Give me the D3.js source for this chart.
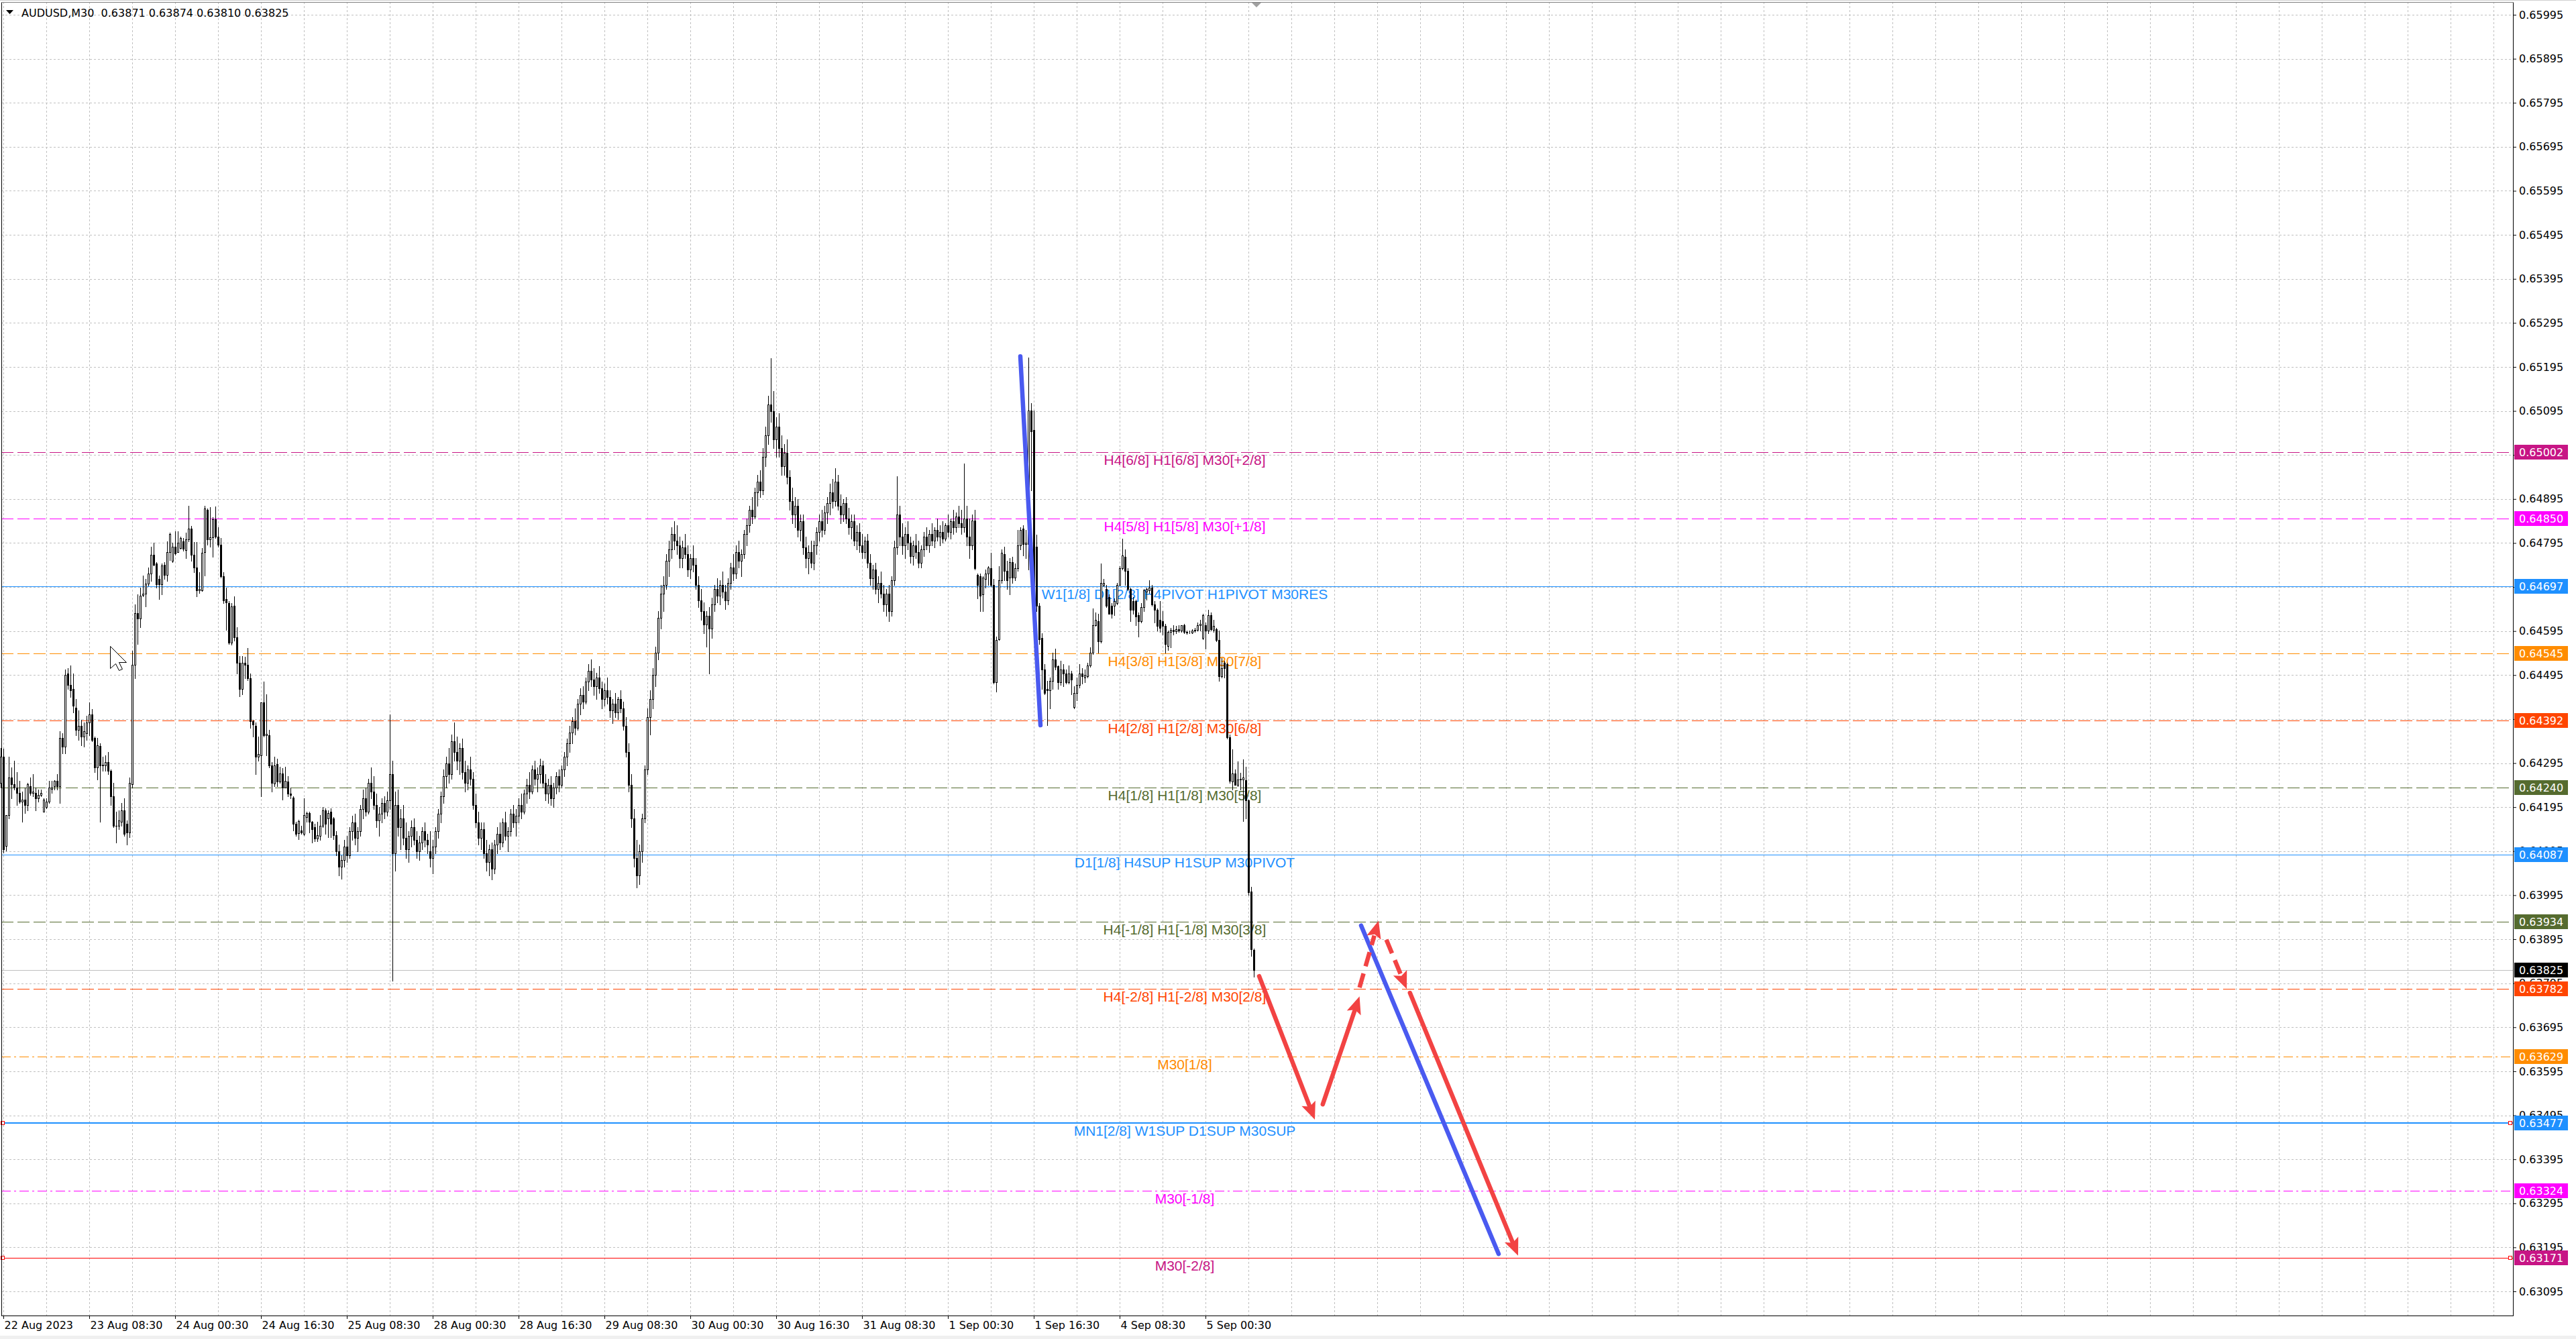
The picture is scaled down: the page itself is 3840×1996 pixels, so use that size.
<!DOCTYPE html>
<html>
<head>
<meta charset="utf-8">
<script src="https://cdn.jsdelivr.net/npm/d3@7/dist/d3.min.js"></script>
<style>
  html, body { margin:0; padding:0; background:#ffffff; overflow:hidden; }
  svg { display:block; }
</style>
</head>
<body>
<svg id="chart" width="3840" height="1996" xmlns="http://www.w3.org/2000/svg"></svg>
<script>
// ================= DATA =================
const chartTitle = "AUDUSD,M30  0.63871 0.63874 0.63810 0.63825";
const priceUnit = 0.00001; // bar values are in pipettes (1e-5)

const timeLabels = ["22 Aug 2023","23 Aug 08:30","24 Aug 00:30","24 Aug 16:30","25 Aug 08:30",
  "28 Aug 00:30","28 Aug 16:30","29 Aug 08:30","30 Aug 00:30","30 Aug 16:30","31 Aug 08:30",
  "1 Sep 00:30","1 Sep 16:30","4 Sep 08:30","5 Sep 00:30"];
const timeLabelBars = [1,33,65,97,129,161,193,225,257,289,321,353,385,417,449];

const priceTicks = [0.65995,0.65895,0.65795,0.65695,0.65595,0.65495,0.65395,0.65295,0.65195,0.65095,
  0.64995,0.64895,0.64795,0.64695,0.64595,0.64495,0.64395,0.64295,0.64195,0.64095,
  0.63995,0.63895,0.63795,0.63695,0.63595,0.63495,0.63395,0.63295,0.63195,0.63095];

// candles [open, high, low, close], M30 bars
const barsAStart = 0;   // 22 Aug 16:00 ...
const barsA = [
[64250,64330,64240,64309],[64309,64328,64091,64099],[64107,64177,64096,64177],[64177,64309,64170,64262],
[64262,64285,64215,64247],[64247,64301,64235,64239],[64239,64274,64200,64227],[64227,64254,64204,64208],
[64208,64231,64161,64212],[64212,64239,64181,64200],[64200,64250,64188,64247],[64243,64262,64223,64227],
[64227,64270,64219,64231],[64227,64239,64188,64215],[64215,64235,64208,64223],[64223,64235,64219,64227],
[64184,64215,64184,64212],[64196,64215,64192,64208],[64208,64254,64204,64239],[64237,64254,64227,64240],
[64243,64256,64235,64254],[64254,64270,64235,64243],[64243,64367,64204,64352],[64352,64363,64317,64332],
[64332,64507,64317,64495],[64499,64511,64464,64472],[64472,64517,64445,64460],[64464,64499,64410,64425],
[64421,64441,64359,64371],[64371,64414,64348,64379],[64379,64394,64336,64356],[64356,64387,64332,64367],
[64363,64402,64348,64387],[64387,64433,64359,64406],[64406,64418,64344,64348],[64352,64356,64274,64285],
[64285,64352,64258,64336],[64334,64340,64161,64289],[64289,64309,64278,64292],[64289,64313,64278,64297],
[64297,64320,64270,64278],[64278,64281,64200,64219],[64219,64250,64149,64153],[64153,64184,64114,64152],
[64153,64188,64145,64165],[64161,64204,64153,64188],[64188,64215,64130,64134],[64157,64165,64110,64138],
[64138,64262,64126,64250],[64247,64550,64239,64519],[64519,64655,64488,64635],[64635,64678,64565,64624],
[64624,64694,64604,64676],[64677,64721,64674,64680],[64680,64713,64651,64703],[64703,64740,64698,64725],
[64725,64787,64709,64768],[64768,64795,64744,64746],[64748,64752,64694,64701],[64713,64721,64667,64701],
[64701,64748,64678,64744],[64746,64752,64713,64723],[64722,64799,64709,64775],[64775,64818,64756,64816],
[64754,64795,64752,64786],[64786,64822,64768,64771],[64775,64822,64774,64796],[64783,64810,64782,64806],
[64799,64806,64778,64782],[64779,64818,64761,64804],[64804,64879,64799,64828],[64828,64834,64754,64769],
[64768,64797,64729,64739],[64740,64797,64674,64688],[64688,64729,64682,64690],[64688,64783,64686,64773],
[64775,64880,64721,64873],[64870,64873,64791,64803],[64803,64876,64787,64808],[64808,64853,64764,64849],
[64849,64878,64806,64810],[64810,64830,64787,64791],[64791,64806,64717,64719],[64719,64729,64659,64665],
[64668,64694,64598,64660],[64659,64663,64565,64569],[64569,64659,64564,64651],[64652,64674,64573,64581],
[64581,64604,64499,64523],[64523,64538,64446,64464],[64464,64538,64452,64523],[64523,64536,64488,64519],
[64519,64556,64484,64488],[64488,64499,64375,64390],[64390,64394,64356,64383],[64379,64387,64270,64309],
[64309,64356,64301,64315],[64313,64433,64219,64433],[64433,64480,64356,64359],[64359,64452,64313,64361],
[64359,64371,64285,64289],[64289,64297,64231,64250],[64248,64310,64243,64289],[64293,64305,64243,64253],
[64253,64287,64250,64271],[64271,64284,64212,64240],[64240,64287,64239,64254],[64253,64266,64219,64225],
[64225,64239,64215,64223],[64217,64219,64142,64157],[64157,64161,64130,64134],[64136,64167,64122,64163],
[64142,64153,64134,64138],[64134,64215,64131,64177],[64173,64184,64161,64181],[64181,64184,64138,64161],
[64161,64163,64114,64145],[64149,64157,64118,64123],[64123,64161,64118,64131],[64130,64177,64120,64153],
[64153,64196,64149,64188],[64188,64192,64134,64157],[64169,64188,64126,64181],[64184,64192,64126,64157],
[64169,64173,64122,64131]
];

const barsBStart = 125; // 25 Aug 06:30 ...
const barsB = [
[64131,64140,64085,64095],[64095,64110,64040,64060],[64060,64085,64032,64075],[64075,64120,64060,64105],
[64105,64130,64070,64085],[64085,64150,64080,64140],[64140,64175,64120,64160],[64160,64180,64110,64125],
[64125,64150,64095,64140],[64140,64200,64130,64190],[64190,64235,64170,64215],[64215,64240,64175,64185],
[64185,64260,64180,64250],[64250,64285,64215,64230],[64230,64265,64190,64200],[64200,64225,64150,64165],
[64165,64195,64130,64180],[64180,64215,64160,64205],[64205,64220,64170,64185],[64185,64230,64175,64210],
[64210,64405,64190,64270],[64270,64300,63801,64090],[64090,64230,64050,64200],[64200,64235,64130,64150],
[64150,64190,64100,64170],[64170,64200,64110,64125],[64125,64160,64080,64100],[64100,64140,64070,64130],
[64130,64165,64105,64150],[64150,64170,64110,64120],[64120,64140,64080,64095],[64095,64130,64075,64115],
[64115,64150,64100,64140],[64140,64160,64105,64120],[64120,64135,64090,64110],[64095,64140,64060,64080],
[64080,64120,64045,64105],[64105,64150,64090,64140],[64140,64190,64125,64180],[64180,64230,64160,64220],
[64220,64280,64205,64265],[64265,64310,64240,64295],[64295,64330,64250,64270],[64270,64360,64260,64345],
[64345,64387,64300,64320],[64320,64355,64280,64300],[64300,64340,64270,64330],[64330,64350,64260,64275],
[64275,64300,64230,64250],[64250,64290,64235,64280],[64280,64310,64245,64260],[64260,64275,64190,64200],
[64200,64225,64150,64160],[64160,64185,64110,64125],[64125,64160,64100,64145],[64145,64160,64080,64090],
[64090,64120,64050,64070],[64070,64110,64040,64100],[64100,64115,64030,64055],[64055,64120,64045,64110],
[64110,64150,64090,64135],[64135,64160,64100,64115],[64115,64170,64105,64160],[64160,64185,64120,64130],
[64130,64150,64095,64140],[64140,64190,64130,64180],[64180,64200,64150,64160],[64160,64190,64130,64175],
[64175,64215,64160,64200],[64200,64225,64170,64185],[64185,64235,64180,64225],[64225,64260,64205,64245],
[64245,64275,64215,64230],[64230,64290,64225,64280],[64280,64300,64245,64260],[64260,64285,64230,64270],
[64270,64305,64250,64290],[64290,64300,64240,64250],[64250,64270,64210,64225],[64225,64260,64205,64245],
[64245,64265,64200,64215],[64215,64250,64195,64240],[64240,64275,64225,64265],[64265,64280,64230,64245],
[64245,64290,64240,64280],[64280,64320,64265,64310],[64310,64350,64290,64340],[64340,64380,64320,64365],
[64365,64400,64340,64390],[64390,64420,64360,64375],[64375,64440,64370,64430],[64430,64465,64405,64450],
[64450,64470,64420,64435],[64435,64490,64430,64480],[64480,64520,64460,64505],[64505,64530,64470,64485],
[64485,64510,64450,64470],[64470,64500,64440,64490],[64490,64515,64455,64465],[64465,64480,64420,64440],
[64440,64475,64425,64460],[64460,64490,64430,64445],[64445,64460,64400,64415],[64415,64440,64385,64430],
[64430,64455,64400,64410],[64410,64445,64395,64440],[64440,64460,64410,64420],[64420,64435,64370,64380],
[64380,64400,64310,64320],[64320,64340,64230,64245],[64245,64270,64150,64170],[64170,64190,64060,64080],
[64080,64120,64013,64040],[64040,64110,64020,64095],[64095,64180,64070,64170],[64170,64290,64160,64280],
[64280,64420,64270,64400],[64400,64460,64360,64440],[64440,64510,64420,64495],[64495,64560,64470,64545],
[64545,64640,64530,64625],[64625,64700,64600,64680],[64680,64720,64640,64700],[64700,64770,64690,64755],
[64755,64800,64720,64780],[64780,64830,64760,64815],[64815,64845,64780,64800],[64800,64835,64770,64790],
[64790,64810,64740,64760],[64760,64800,64740,64785],[64785,64815,64760,64770],[64770,64790,64720,64735],
[64735,64770,64715,64760],[64760,64790,64730,64745],[64745,64760,64690,64700],[64700,64720,64650,64665],
[64665,64690,64620,64640],[64640,64660,64590,64610],[64610,64640,64560,64630],[64630,64650,64498,64600],
[64600,64670,64580,64655],[64655,64700,64640,64690],[64690,64715,64660,64675],[64675,64710,64655,64700],
[64700,64730,64670,64685],[64685,64700,64645,64665],[64665,64715,64655,64705],[64705,64750,64690,64740],
[64740,64770,64710,64725],[64725,64790,64715,64775],[64775,64800,64740,64755],[64755,64780,64720,64770],
[64770,64825,64760,64815],[64815,64850,64790,64835],[64835,64880,64820,64870],[64870,64900,64840,64855],
[64855,64920,64850,64910],[64910,64950,64880,64935],[64935,64960,64900,64915],[64915,65010,64905,64990],
[64990,65060,64970,65040],[65040,65130,65020,65110],[65110,65215,65070,65095],[65095,65140,65010,65030],
[65030,65080,64990,65060],[65060,65090,64990,65010],[65010,65040,64950,64970],[64970,65020,64950,65000],
[65000,65030,64930,64945],[64945,64960,64870,64890],[64890,64920,64840,64860],[64860,64900,64830,64880],
[64880,64895,64810,64825],[64825,64860,64800,64845],[64845,64860,64770,64785],[64785,64810,64740,64760],
[64760,64790,64725,64775],[64775,64800,64740,64750],[64750,64800,64735,64790],[64790,64830,64770,64820],
[64820,64860,64800,64845],[64845,64870,64810,64825],[64825,64880,64815,64865],[64865,64900,64840,64885],
[64885,64930,64860,64910],[64910,64940,64875,64890],[64890,64965,64880,64935],[64935,64950,64870,64880],
[64880,64905,64840,64860],[64860,64895,64845,64885],[64885,64900,64840,64850],[64850,64875,64815,64830],
[64830,64860,64805,64845],[64845,64860,64790,64800],[64800,64835,64780,64820],[64820,64840,64775,64790],
[64790,64815,64760,64775],[64775,64810,64760,64800],[64800,64815,64740,64750],[64750,64770,64700,64715],
[64715,64745,64690,64735],[64735,64750,64680,64690],[64690,64720,64660,64705],[64705,64730,64670,64680],
[64680,64700,64640,64655],[64655,64690,64630,64680],[64680,64700,64618,64640],[64640,64720,64630,64710],
[64710,64800,64700,64785],[64785,64946,64770,64860],[64860,64880,64790,64810],[64810,64840,64770,64790],
[64790,64830,64760,64815],[64815,64845,64780,64795],[64795,64810,64750,64765],[64765,64800,64745,64790],
[64790,64815,64760,64775],[64775,64800,64740,64750],[64750,64790,64740,64780],[64780,64820,64765,64810],
[64810,64830,64780,64790],[64790,64825,64775,64815],[64815,64840,64790,64800],[64800,64830,64785,64825],
[64825,64850,64800,64810],[64810,64835,64790,64820],[64820,64845,64795,64805],[64805,64840,64800,64835],
[64835,64860,64810,64820],[64820,64850,64805,64845],[64845,64870,64815,64830],[64830,64865,64820,64855],
[64855,64880,64830,64840],[64840,64870,64815,64830],[64830,64976,64820,64850],[64850,64880,64790,64810],
[64810,64850,64760,64790],[64790,64860,64780,64846]
];

const barsCStart = 363; // 1 Sep 15:30 ... 5 Sep 09:30
const barsC = [
[64846,64871,64735,64738],[64723,64726,64669,64700],[64720,64726,64640,64675],[64678,64720,64640,64716],
[64713,64735,64694,64726],[64726,64742,64700,64740],[64738,64773,64697,64700],[64700,64713,64476,64479],
[64479,64583,64457,64574],[64577,64742,64574,64710],[64710,64780,64704,64773],[64770,64786,64710,64732],
[64732,64754,64691,64710],[64716,64761,64678,64751],[64751,64764,64704,64716],[64716,64748,64710,64738],
[64738,64824,64732,64789],[64789,64830,64780,64824],[64827,64836,64767,64792],[64792,64824,64761,64795],
[64792,65216,64735,65096],[65096,65112,64915,65048],[65051,65096,64650,64653],[64786,64814,64640,64653],
[64653,64659,64565,64577],[64580,64590,64463,64508],[64508,64520,64451,64454],[64463,64482,64381,64460],
[64460,64489,64419,64482],[64482,64546,64463,64530],[64530,64555,64508,64514],[64515,64517,64463,64479],
[64479,64527,64473,64508],[64508,64520,64470,64498],[64498,64508,64476,64479],[64479,64517,64476,64498],
[64498,64504,64451,64485],[64422,64470,64419,64454],[64454,64489,64438,64473],[64473,64520,64467,64498],
[64498,64511,64476,64492],[64489,64508,64479,64495],[64492,64523,64489,64517],[64517,64558,64514,64546],
[64546,64647,64542,64609],[64609,64637,64606,64620],[64618,64634,64546,64571],[64571,64748,64568,64704],
[64700,64713,64697,64705],[64691,64700,64650,64653],[64672,64678,64634,64634],[64653,64659,64625,64634],
[64653,64669,64631,64663],[64659,64704,64656,64700],[64700,64743,64700,64738],[64738,64805,64735,64767],
[64764,64780,64700,64732],[64732,64738,64688,64691],[64691,64694,64618,64644],[64663,64672,64634,64644],
[64663,64666,64609,64628],[64631,64637,64583,64618],[64618,64659,64615,64650],[64650,64691,64640,64688],
[64685,64694,64666,64691],[64688,64710,64682,64694],[64694,64700,64653,64656],[64656,64663,64615,64644],
[64644,64647,64596,64606],[64621,64663,64593,64602],[64618,64640,64587,64606],[64606,64612,64546,64565],
[64561,64596,64552,64593],[64593,64602,64558,64597],[64597,64609,64587,64595],[64595,64606,64590,64599],
[64599,64609,64593,64596],[64596,64609,64593,64609],[64609,64612,64590,64593],[64593,64596,64588,64591],
[64591,64596,64590,64592],[64591,64599,64590,64596],[64596,64602,64593,64597],[64597,64615,64596,64609],
[64609,64621,64596,64612],[64580,64634,64577,64631],[64609,64615,64555,64596],[64596,64644,64590,64631],
[64631,64637,64596,64599],[64597,64621,64593,64606],[64599,64602,64571,64574],[64574,64596,64482,64492],
[64492,64533,64489,64511],[64523,64527,64489,64511],[64520,64523,64350,64353],[64353,64360,64250,64255],
[64253,64327,64235,64271],[64271,64281,64245,64245],[64245,64299,64243,64258],[64258,64273,64235,64260],
[64258,64304,64164,64263],[64256,64286,64169,64210],[64210,64212,63996,64001],[64004,64014,63857,63872],
[63871,63874,63810,63825]
];

// Murrey-math style horizontal levels
const levelPrices = [0.65002,0.64850,0.64697,0.64545,0.64392,0.64240,0.64087,0.63934,0.63782,0.63629,0.63477,0.63324,0.63171];
const levelLabels = ["H4[6/8] H1[6/8] M30[+2/8]","H4[5/8] H1[5/8] M30[+1/8]","W1[1/8] D1[2/8] H4PIVOT H1PIVOT M30RES",
  "H4[3/8] H1[3/8] M30[7/8]","H4[2/8] H1[2/8] M30[6/8]","H4[1/8] H1[1/8] M30[5/8]","D1[1/8] H4SUP H1SUP M30PIVOT",
  "H4[-1/8] H1[-1/8] M30[3/8]","H4[-2/8] H1[-2/8] M30[2/8]","M30[1/8]","MN1[2/8] W1SUP D1SUP M30SUP","M30[-1/8]","M30[-2/8]"];
const currentPrice = 0.63825;

// projected path arrows (bar index, price)
const arrowFromBar   = [469, 492.7, 506.4, 516.4, 525.2];
const arrowFromPrice = [0.63811, 0.63520, 0.63785, 0.63894, 0.63773];
const arrowToBar     = [489.75, 506.4, 513.5, 524.0, 565.5];
const arrowToPrice   = [0.63485, 0.63765, 0.63937, 0.63782, 0.63176];
// blue trend lines
const trendFromBar   = [380, 507];
const trendFromPrice = [0.65219, 0.63926];
const trendToBar     = [387.5, 558.25];
const trendToPrice   = [0.64381, 0.63180];

// ================= STYLE =================
const levelColors = ["#C71585","#FF00FF","#1E90FF","#FF8C00","#FF4500","#556B2F","#1E90FF","#556B2F","#FF4500","#FF8C00","#1E90FF","#FF00FF","#C71585"];
const levelLineColors = ["#C71585","#FF00FF","#1E90FF","#FF8C00","#FF4500","#556B2F","#1E90FF","#556B2F","#FF4500","#FF8C00","#1E90FF","#FF00FF","#FF0000"];
const levelDash = ["18,6","18,6",null,"18,6","18,6","18,6",null,"18,6","18,6","14,5,3,5",null,"14,5,3,5",null];
const levelWidth = [1,1,1,1,1,1,1,1,1,1,2,1,1];
const arrowDashed = [false,false,true,true,false];
const RED = "#F24343", BLUE = "#4A5AF0";
const AXIS_FONT = "'DejaVu Sans', Verdana, sans-serif";
const LABEL_FONT = "'Liberation Sans', Arial, sans-serif";
const labelCenterBar = 441.25;

// ================= DRAW =================
const W = 3840, H = 1996;
const plot = {left: 2, right: 3746, top: 3, bottom: 1961};
const svg = d3.select("#chart");
const x = d3.scaleLinear().domain([0, 936]).range([1, 3745]);
const y = d3.scaleLinear().domain([0.63095, 0.65995]).range([1925, 22]);
const cr = v => Math.round(v) + 0.5;

svg.append("rect").attr("width", W).attr("height", H).attr("fill", "#ffffff");
svg.append("rect").attr("x",0).attr("y",1991).attr("width",W).attr("height",5).attr("fill","#F0F0F0");

// grid
const grid = svg.append("g").attr("stroke", "#C0C0C0").attr("stroke-width", 1).attr("stroke-dasharray", "3,3");
grid.selectAll("line.v").data(d3.range(1, 937, 16)).join("line").attr("class","v")
  .attr("x1", d => cr(x(d))).attr("x2", d => cr(x(d)))
  .attr("y1", plot.top).attr("y2", plot.bottom);
grid.selectAll("line.h").data(priceTicks).join("line").attr("class","h")
  .attr("x1", plot.left).attr("x2", plot.right)
  .attr("y1", d => cr(y(d))).attr("y2", d => cr(y(d)));

// level lines
const lv = svg.append("g");
lv.selectAll("line").data(levelPrices).join("line")
  .attr("x1", plot.left).attr("x2", plot.right)
  .attr("y1", (d,i) => levelWidth[i] === 2 ? Math.round(y(d)) : cr(y(d)))
  .attr("y2", (d,i) => levelWidth[i] === 2 ? Math.round(y(d)) : cr(y(d)))
  .attr("stroke", (d,i) => levelLineColors[i])
  .attr("stroke-width", (d,i) => levelWidth[i])
  .attr("stroke-dasharray", (d,i) => levelDash[i]);
// current price line
svg.append("line").attr("x1", plot.left).attr("x2", plot.right)
  .attr("y1", cr(y(currentPrice))).attr("y2", cr(y(currentPrice)))
  .attr("stroke", "#C0C0C0").attr("stroke-width", 1);

// level labels
svg.append("g").selectAll("text").data(levelPrices).join("text")
  .attr("x", x(labelCenterBar)).attr("y", d => Math.round(y(d)) + 19)
  .attr("text-anchor", "middle")
  .attr("font-family", LABEL_FONT).attr("font-size", 21)
  .attr("fill", (d,i) => levelColors[i])
  .text((d,i) => levelLabels[i]);

// candles
const cg = svg.append("g");
function drawBars(bars, start) {
  bars.forEach((b, i) => {
    const k = start + i;
    const X = Math.round(x(k));
    const o = b[0]*priceUnit, h = b[1]*priceUnit, l = b[2]*priceUnit, c = b[3]*priceUnit;
    const yH = Math.round(y(h)), yL = Math.round(y(l)), yO = Math.round(y(o)), yC = Math.round(y(c));
    cg.append("line").attr("x1", X+0.5).attr("x2", X+0.5).attr("y1", yH).attr("y2", yL+1)
      .attr("stroke", "#000").attr("stroke-width", 1);
    if (c < o) {
      cg.append("rect").attr("x", X-1).attr("y", yO).attr("width", 3).attr("height", Math.max(1, yC-yO+1)).attr("fill", "#000");
    } else if (c > o) {
      cg.append("rect").attr("x", X-0.5).attr("y", yC+0.5).attr("width", 2).attr("height", Math.max(0, yO-yC))
        .attr("fill", "#fff").attr("stroke", "#000").attr("stroke-width", 1);
    } else {
      cg.append("line").attr("x1", X-1).attr("x2", X+2).attr("y1", yO+0.5).attr("y2", yO+0.5).attr("stroke", "#000");
    }
  });
}
drawBars(barsA, barsAStart);
drawBars(barsB, barsBStart);
drawBars(barsC, barsCStart);

// trend lines
const tg = svg.append("g");
trendFromBar.forEach((b, i) => {
  tg.append("line").attr("x1", x(b)).attr("y1", y(trendFromPrice[i]))
    .attr("x2", x(trendToBar[i])).attr("y2", y(trendToPrice[i]))
    .attr("stroke", BLUE).attr("stroke-width", 6.5).attr("stroke-linecap", "round");
});
// arrows
function arrow(x1, y1, x2, y2, dashed) {
  const dx = x2-x1, dy = y2-y1, len = Math.hypot(dx, dy), ux = dx/len, uy = dy/len;
  const hl = 26, hw = 22;
  const bx = x2 - ux*hl, by = y2 - uy*hl;
  const ln = tg.append("line").attr("x1", x1).attr("y1", y1).attr("x2", bx+ux*3).attr("y2", by+uy*3)
    .attr("stroke", RED).attr("stroke-width", 6.5);
  if (dashed) ln.attr("stroke-dasharray", "22,11").attr("stroke-linecap", "butt");
  else ln.attr("stroke-linecap", "round");
  tg.append("path")
    .attr("d", `M${x2},${y2}L${bx - uy*hw/2},${by + ux*hw/2}L${bx + ux*5},${by + uy*5}L${bx + uy*hw/2},${by - ux*hw/2}Z`)
    .attr("fill", RED);
}
arrowFromBar.forEach((b, i) => arrow(x(b), y(arrowFromPrice[i]), x(arrowToBar[i]), y(arrowToPrice[i]), arrowDashed[i]));

// axes
const yAxis = d3.axisRight(y).tickValues(priceTicks).tickFormat(d3.format(".5f")).tickSize(5).tickPadding(4);
const gy = svg.append("g").attr("transform", `translate(${plot.right},0)`).call(yAxis);
gy.select(".domain").remove();
gy.selectAll("line").attr("stroke", "#000");
gy.selectAll("text").attr("font-family", AXIS_FONT).attr("font-size", 16).attr("fill", "#000");

const xAxis = d3.axisBottom(x).tickValues(timeLabelBars).tickFormat((d,i) => timeLabels[i]).tickSize(5).tickPadding(4);
const gx = svg.append("g").attr("transform", `translate(0,${plot.bottom})`).call(xAxis);
gx.select(".domain").remove();
gx.selectAll("line").attr("stroke", "#000");
gx.selectAll("text").attr("text-anchor", "start").attr("dx", 1)
  .attr("font-family", AXIS_FONT).attr("font-size", 16).attr("fill", "#000");

// price boxes on axis
const boxes = svg.append("g");
const boxData = levelPrices.map((p,i) => ({p, c: levelColors[i]})).concat([{p: currentPrice, c: "#000000"}]);
boxData.forEach(d => {
  const yy = Math.round(y(d.p));
  boxes.append("rect").attr("x", plot.right+2).attr("y", yy-11).attr("width", 80).attr("height", 22).attr("fill", d.c);
  boxes.append("text").attr("x", plot.right+9).attr("y", yy).attr("dy", "0.36em")
    .attr("font-family", AXIS_FONT).attr("font-size", 16).attr("fill", "#fff").text(d3.format(".5f")(d.p));
});

// anchor squares on selected lines
[levelPrices[10], levelPrices[12]].forEach(p => {
  [plot.left+2, plot.right-4].forEach(xx => {
    svg.append("rect").attr("x", xx-2.5).attr("y", Math.round(y(p))-2.5).attr("width", 5).attr("height", 5)
      .attr("fill", "#fff").attr("stroke", "#FF0000").attr("stroke-width", 1);
  });
});

// frame
const fr = svg.append("g").attr("stroke", "#000").attr("stroke-width", 1);
fr.append("line").attr("x1", 2.5).attr("x2", 2.5).attr("y1", plot.top).attr("y2", plot.bottom);
fr.append("line").attr("x1", plot.right+0.5).attr("x2", plot.right+0.5).attr("y1", plot.top).attr("y2", plot.bottom+0.5);
fr.append("line").attr("x1", 2).attr("x2", plot.right+1).attr("y1", plot.bottom+0.5).attr("y2", plot.bottom+0.5);
fr.append("line").attr("x1", 2).attr("x2", plot.right+1).attr("y1", plot.top+0.5).attr("y2", plot.top+0.5).attr("stroke", "#808080");
svg.append("line").attr("x1", 0).attr("x2", W).attr("y1", 0.5).attr("y2", 0.5).attr("stroke", "#D0D0D0");

// chart shift marker
const sx = x(468);
svg.append("path").attr("d", `M${sx-7},${plot.top+1}L${sx+7},${plot.top+1}L${sx},${plot.top+8}Z`).attr("fill", "#A0A0A0");

// title
svg.append("path").attr("d", "M9,15L20,15L14.5,21Z").attr("fill", "#000");
svg.append("text").attr("x", 32).attr("y", 19).attr("dy", "0.36em").style("white-space", "pre")
  .attr("font-family", AXIS_FONT).attr("font-size", 16).attr("fill", "#000").text(chartTitle);

// mouse cursor
svg.append("path").attr("d", "M164.5,963.5L164.5,996.5L172.5,989.5L177.5,999.5L182.5,997.5L177.5,987.5L188.5,987.5Z")
  .attr("fill", "#fff").attr("stroke", "#000").attr("stroke-width", 1);
</script>
</body>
</html>
